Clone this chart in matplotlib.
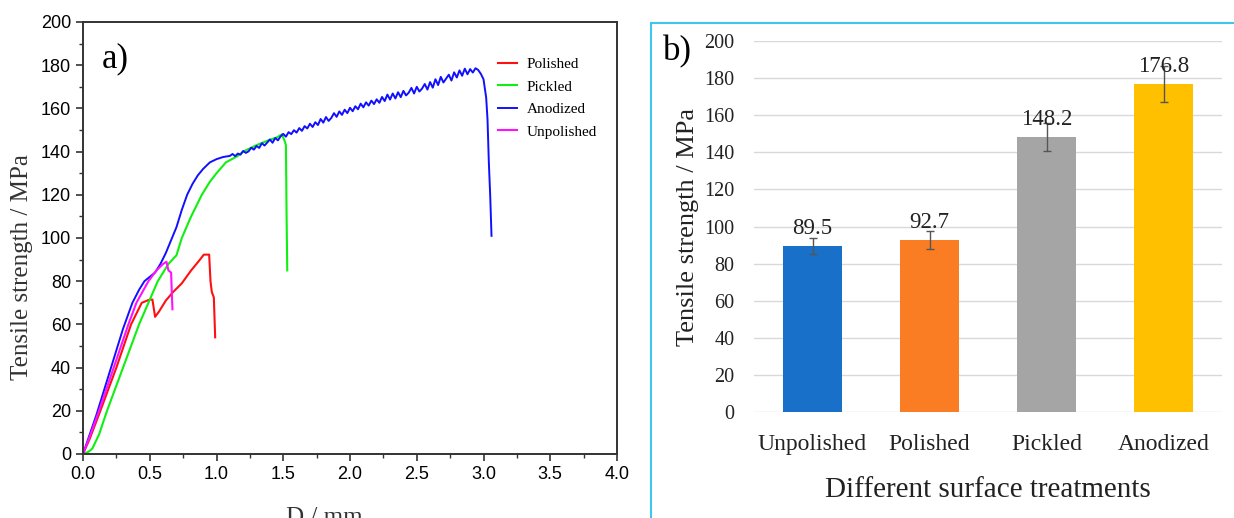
import numpy as np
import matplotlib
matplotlib.use("Agg")
from matplotlib import pyplot as plt
from matplotlib.patches import Rectangle
from matplotlib.ticker import MultipleLocator, FormatStrFormatter

# a) tensile curves
polished_x = [0, 0.05, 0.13, 0.25, 0.36, 0.44, 0.50, 0.52, 0.54, 0.57, 0.62, 0.675, 0.74, 0.81,
              0.87, 0.905, 0.945, 0.955, 0.965, 0.98, 0.99]
polished_y = [0, 7, 20, 40, 60, 70, 71.5, 71.5, 63.5, 66, 71, 75, 79, 85,
              89.5, 92.3, 92.3, 80, 75, 72.5, 54]

pickled_x = [0, 0.04, 0.07, 0.12, 0.18, 0.30, 0.42, 0.56, 0.64, 0.70, 0.74, 0.81, 0.89, 0.95, 1.0,
             1.07, 1.16, 1.2, 1.3, 1.4, 1.45, 1.49, 1.51, 1.52, 1.525, 1.53]
pickled_y = [0, 1, 2.5, 9, 20, 40, 60, 80, 88, 92, 100, 110, 120, 126, 130,
             135, 138, 140, 143, 145.5, 146.5, 148, 145, 143, 110, 85]

unpolished_x = [0, 0.05, 0.12, 0.23, 0.34, 0.40, 0.49, 0.55, 0.60, 0.625, 0.64, 0.65, 0.66, 0.665, 0.67]
unpolished_y = [0, 8, 20, 40, 60, 70, 80, 85, 88, 89, 85, 84.5, 84, 75, 67]

anodized_x = [0, 0.05, 0.1, 0.2, 0.3, 0.37, 0.42, 0.46, 0.5, 0.54, 0.58, 0.62, 0.66, 0.7, 0.74,
              0.78, 0.82, 0.86, 0.9, 0.95, 1.0, 1.05,
              1.10, 1.12, 1.14, 1.16, 1.18, 1.20, 1.22, 1.24, 1.26, 1.28, 1.30, 1.32, 1.34, 1.36,
              1.38, 1.40, 1.42, 1.44, 1.46, 1.48, 1.50, 1.52, 1.54, 1.56, 1.58, 1.60, 1.62, 1.64,
              1.66, 1.68, 1.70, 1.72, 1.74, 1.76, 1.78, 1.80, 1.82, 1.84, 1.86, 1.88, 1.90, 1.92,
              1.94, 1.96, 1.98, 2.00, 2.02, 2.04, 2.06, 2.08, 2.10, 2.12, 2.14, 2.16, 2.18, 2.20,
              2.22, 2.24, 2.26, 2.28, 2.30, 2.32, 2.34, 2.36, 2.38, 2.40, 2.42, 2.44, 2.46, 2.48,
              2.50, 2.52, 2.54, 2.56, 2.58, 2.60, 2.62, 2.64, 2.66, 2.68, 2.70, 2.72, 2.74, 2.76,
              2.78, 2.80, 2.82, 2.84, 2.86, 2.88, 2.90, 2.92, 2.94, 2.96,
              2.98, 3.00, 3.02, 3.03, 3.04, 3.05, 3.06]
anodized_y = [0, 9, 18, 38, 58, 70, 76, 80, 82, 84, 88, 93, 99, 105, 113,
              120, 125, 129, 132, 135, 136.5, 137.5,
              138.0, 138.9, 137.9, 139.1, 138.6, 140.3, 139.4, 140.1, 141.8, 140.9, 142.6, 141.7,
              143.9, 142.8, 144.2, 145.6, 144.1, 146.3, 145.2, 147.0, 148.2, 146.9, 149.0, 148.1,
              149.9, 148.8, 150.9, 149.6, 151.8, 150.7, 152.9, 151.4, 153.6, 152.3, 155.1, 153.4,
              156.0, 154.2, 155.6, 157.8, 156.1, 158.6, 157.0, 159.4, 157.8, 160.3, 158.7, 161.0,
              159.6, 162.2, 160.5, 162.8, 161.3, 163.6, 162.0, 164.2, 162.6, 165.3, 163.4, 166.4,
              164.1, 166.9, 164.6, 167.5, 165.2, 168.1, 166.0, 167.3, 169.5, 166.9, 170.0, 167.8,
              169.2, 171.3, 168.7, 172.2, 169.6, 173.5, 170.8, 174.6, 172.0, 173.8, 175.6, 172.9,
              176.7, 174.3, 177.6, 175.1, 178.4, 175.8, 178.2, 176.6, 178.6, 177.8,
              176.0, 173.5, 165, 155, 135, 120, 101]

# b) mean tensile strength per treatment
treatments = ["Unpolished", "Polished", "Pickled", "Anodized"]
strength = [89.5, 92.7, 148.2, 176.8]
strength_err = [4.5, 5.0, 7.5, 9.5]
bar_colors = ["#1870C8", "#FA7D24", "#A5A5A5", "#FFC000"]

serif = "Liberation Serif"
sans = "Liberation Sans"

fig = plt.figure(figsize=(12.34, 5.18), dpi=100)

# ---- panel a
ax1 = fig.add_axes([83 / 1234, 1 - 454 / 518, 534 / 1234, 432 / 518])
ax1.plot(polished_x, polished_y, color="#FF1010", lw=1.5, label="Polished")
ax1.plot(pickled_x, pickled_y, color="#10F010", lw=1.5, label="Pickled")
ax1.plot(anodized_x, anodized_y, color="#1010FF", lw=1.4, label="Anodized")
ax1.plot(unpolished_x, unpolished_y, color="#FF10FF", lw=1.5, label="Unpolished")
ax1.set_xlim(0, 4.0)
ax1.set_ylim(0, 200)
ax1.xaxis.set_major_locator(MultipleLocator(0.5))
ax1.xaxis.set_minor_locator(MultipleLocator(0.25))
ax1.yaxis.set_major_locator(MultipleLocator(20))
ax1.yaxis.set_minor_locator(MultipleLocator(10))
ax1.xaxis.set_major_formatter(FormatStrFormatter("%.1f"))
ax1.tick_params(which="major", direction="out", length=5, width=1.2, labelsize=13, colors="#333333")
ax1.tick_params(which="minor", direction="out", length=3, width=1.0, colors="#333333")
for lab in ax1.get_xticklabels() + ax1.get_yticklabels():
    lab.set_fontfamily(sans)
    lab.set_color("black")
for sp in ax1.spines.values():
    sp.set_linewidth(1.4)
    sp.set_color("#333333")
fig.text(22 / 1234, 1 - 267 / 518, "Tensile strength / MPa", rotation=90, fontsize=18, family=serif,
         color="#333333", ha="center", va="center")
fig.text(324 / 1234, -6 / 518, "D / mm", fontsize=18, family=serif, color="#333333",
         ha="center", va="baseline")
ax1.text(0.035, 0.915, "a)", transform=ax1.transAxes, fontsize=25, family=serif, va="center")
leg = ax1.legend(loc="upper left", bbox_to_anchor=(0.777, 0.918), frameon=False,
                 borderaxespad=0, borderpad=0,
                 prop={"family": serif, "size": 11}, handlelength=1.25, labelspacing=0.58,
                 handletextpad=0.65)

# ---- panel b
fig.patches.append(Rectangle((651 / 1234, -0.1), 0.6, 1 - 23 / 518 + 0.1, transform=fig.transFigure,
                             fill=False, edgecolor="#3CC8EC", lw=1.5))
ax2 = fig.add_axes([754 / 1234, 1 - 412 / 518, 468 / 1234, 371 / 518])
pos = np.arange(len(treatments))
ax2.bar(pos, strength, width=0.5, color=bar_colors, zorder=2)
ax2.errorbar(pos, strength, yerr=strength_err, fmt="none", ecolor="#555555", elinewidth=1.0,
             capsize=3, capthick=1.0, zorder=3)
for p, v in zip(pos, strength):
    ax2.annotate(f"{v:.1f}", (p, v), xytext=(0, 5), textcoords="offset points", ha="center",
                 va="bottom", fontsize=16.5, family=serif, color="#222222", zorder=4)
ax2.set_xlim(-0.5, 3.5)
ax2.set_ylim(0, 200)
ax2.set_yticks(range(0, 201, 20))
ax2.set_xticks(pos)
ax2.set_xticklabels(treatments, fontsize=17, family=serif, color="#222222")
ax2.tick_params(axis="y", length=0, pad=14, labelsize=14.5, labelcolor="#222222")
ax2.tick_params(axis="x", length=0, pad=16)
for lab in ax2.get_yticklabels():
    lab.set_fontfamily(serif)
for sp in ax2.spines.values():
    sp.set_visible(False)
ax2.grid(axis="y", color="#D9D9D9", lw=1.0, zorder=0)
ax2.set_axisbelow(True)
ax2.set_ylabel("Tensile strength / MPa", fontsize=19, family=serif, color="#222222", labelpad=3.5)
ax2.set_xlabel("Different surface treatments", fontsize=21, family=serif, color="#222222",
               labelpad=16)
fig.text(663 / 1234, 1 - 52 / 518, "b)", fontsize=25, family=serif, va="center")

fig.savefig("out.png", dpi=100)
